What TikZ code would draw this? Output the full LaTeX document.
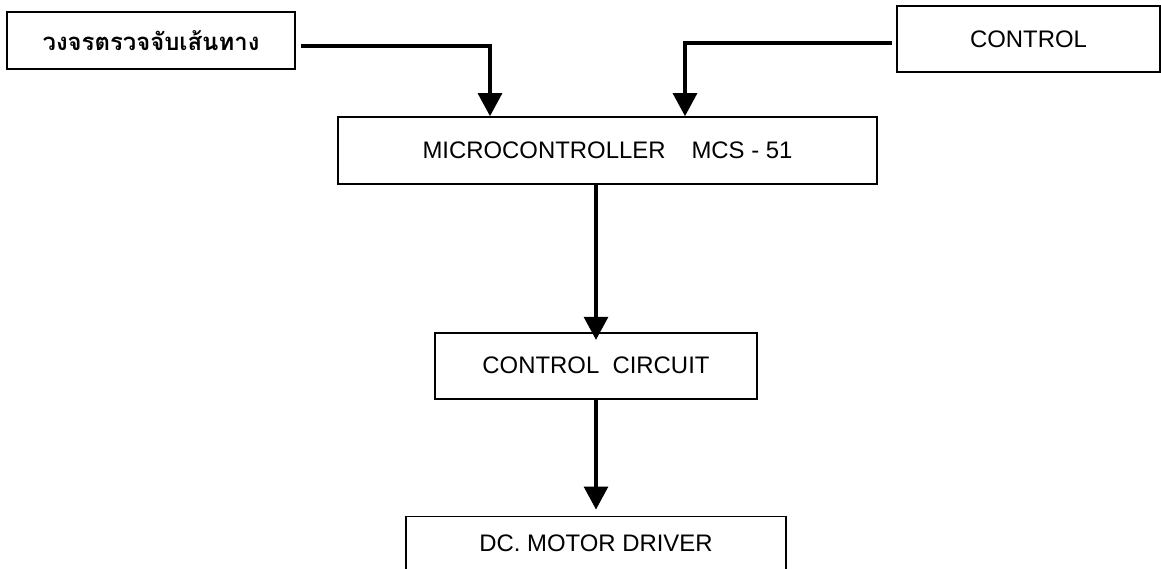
\documentclass[tikz,border=0pt]{standalone}
\usepackage{fontspec}
\setmainfont{Liberation Sans}
\newfontfamily\thaifont[Script=Thai]{Loma}
\usetikzlibrary{arrows.meta, positioning}

\begin{document}
\begin{tikzpicture}[
    box/.style={draw, line width=1.2pt, minimum height=1.65cm, align=center, inner sep=0pt, font=\fontsize{17}{20}\selectfont},
    ar/.style={-{Triangle[length=5.75mm, width=6mm]}, line width=2.2pt}
]
\useasboundingbox (0,0) rectangle (29.025,-14.225);
\node[box, minimum width=13.475cm, minimum height=1.675cm] (mcu) at (15.1875,-3.7625) {MICROCONTROLLER\hspace{0.65cm}MCS - 51};
\node[box, minimum width=7.2cm, minimum height=1.425cm] (sensor) at (3.775,-1.0125) {\thaifont\bfseries วงจรตรวจจับเส้นทาง};
\node[box, minimum width=6.575cm] (ctrl) at (25.7125,-0.975) {CONTROL};
\node[box, minimum width=8.05cm, below=3.675cm of mcu, xshift=-0.2875cm] (circ) {CONTROL\ \ CIRCUIT};
\node[box, minimum width=9.5cm, minimum height=1.34cm, below=2.9cm of circ] (driver) {DC. MOTOR DRIVER};
\coordinate (k1) at (12.25,-1.15);
\coordinate (k2) at (17.125,-1.075);
\draw[ar, shorten <=1.2mm] (sensor.east |- k1) -- (k1) -- (k1 |- mcu.north);
\draw[ar, shorten <=1mm] (ctrl.west |- k2) -- (k2) -- (k2 |- mcu.north);
\draw[ar, shorten >=-2mm] (circ.north |- mcu.south) -- (circ.north);
\draw[ar, shorten >=1.5mm] (circ.south) -- (circ.south |- driver.north);
\end{tikzpicture}
\end{document}
